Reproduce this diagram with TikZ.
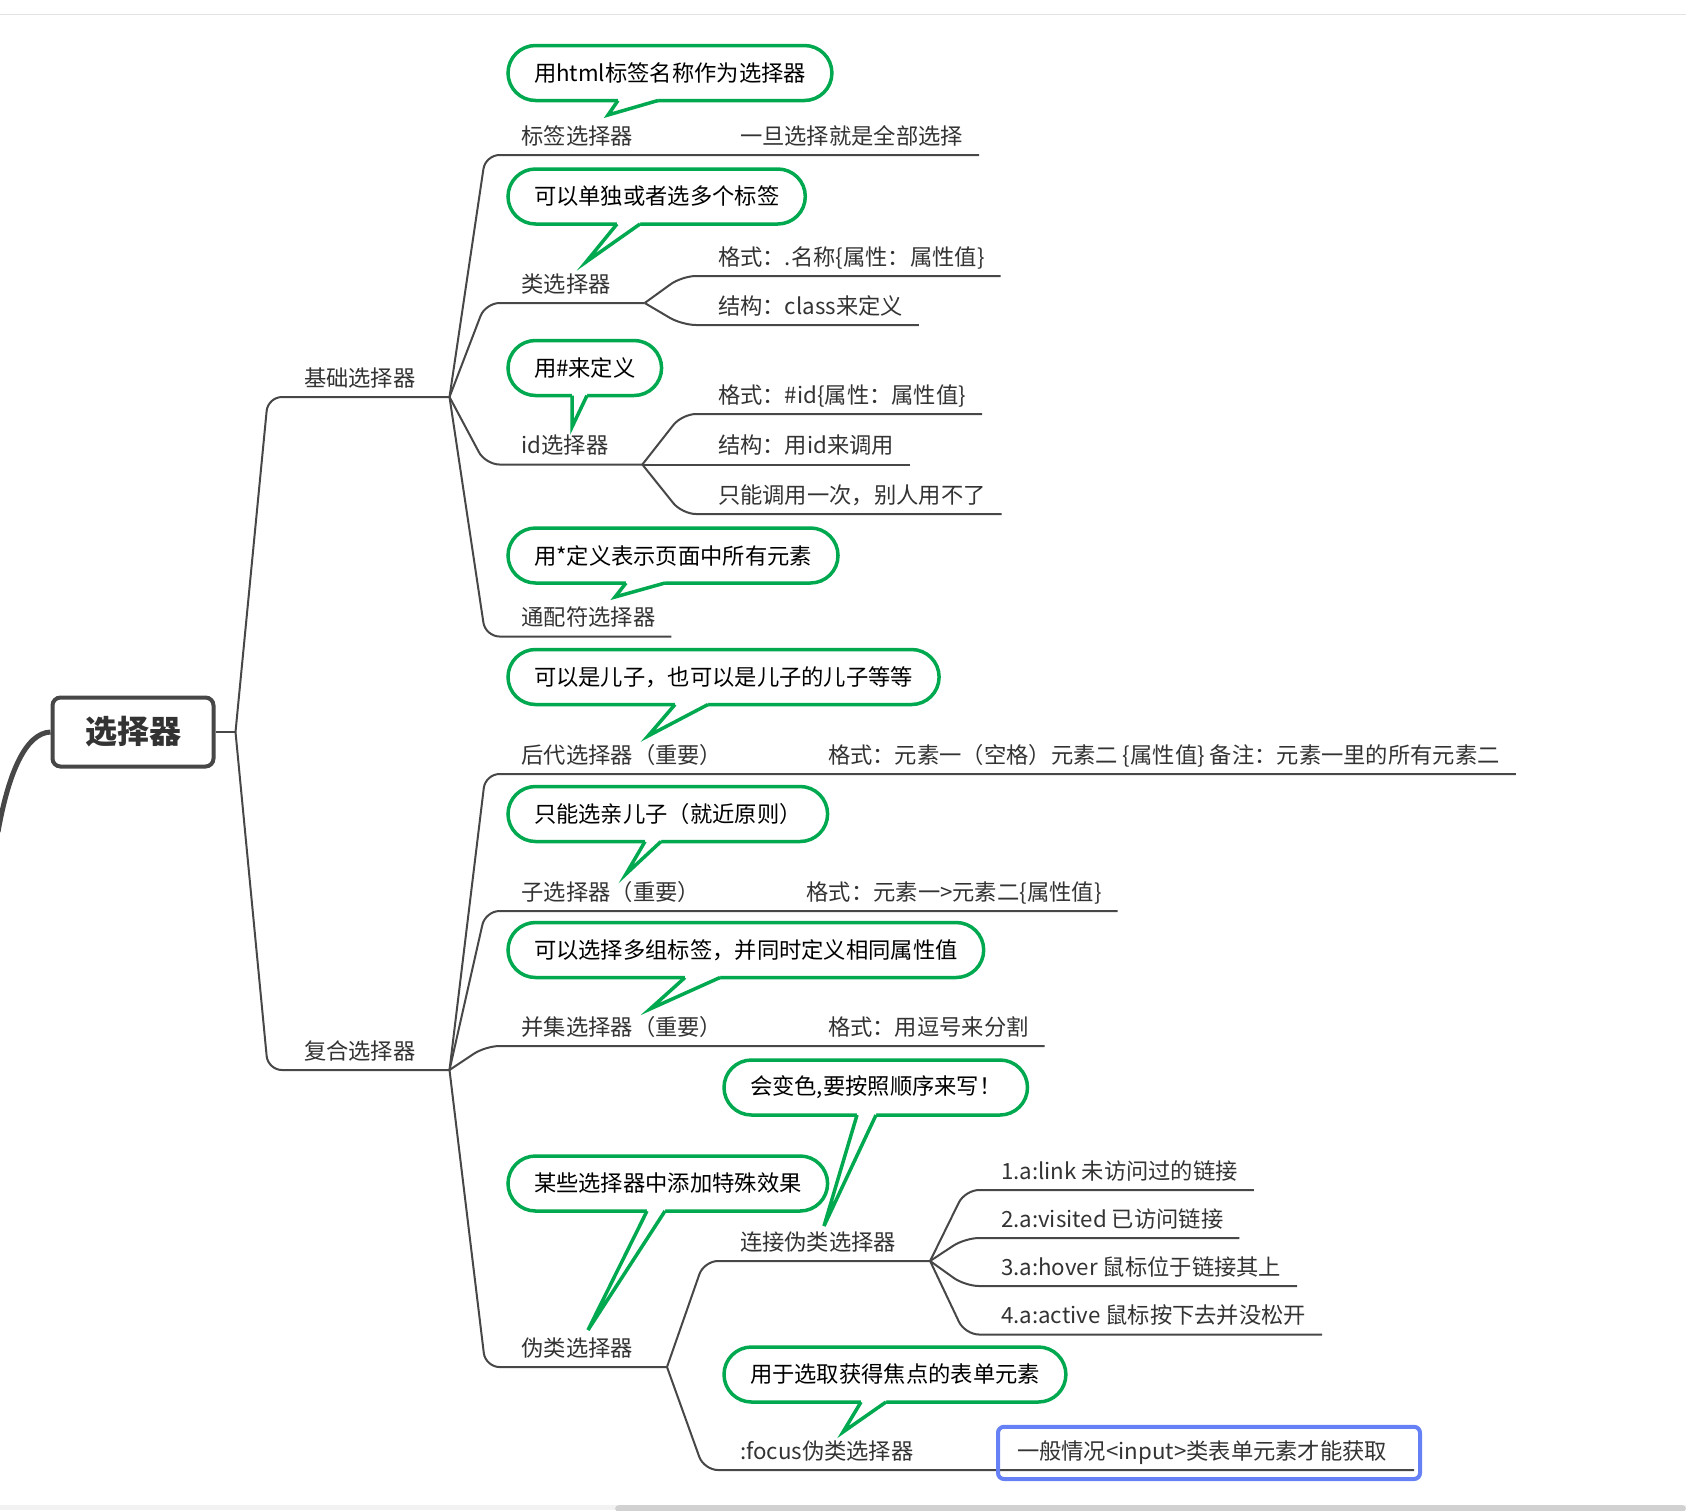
\documentclass[tikz,border=0pt]{standalone}
\usepackage{fontspec}
\setmainfont{Noto Sans CJK SC}
\usepackage{tikz}
\definecolor{linegray}{HTML}{474747}
\definecolor{textgray}{HTML}{333333}
\definecolor{bubgreen}{HTML}{00A94F}
\definecolor{noteblue}{HTML}{6680F5}
\newcommand{\bubtail}[4]{%
  \path (#1.south -| #2,0) coordinate (#1-bl) (#1.south -| #3,0) coordinate (#1-br);
  \fill[white] ([yshift=1.3pt]#1-bl) -- (#1-bl) -- (#4) -- (#1-br) -- ([yshift=1.3pt]#1-br) -- cycle;
  \draw[tail] (#1-bl) -- (#4) -- (#1-br);}

\begin{document}
\begin{tikzpicture}[x=0.5pt, y=-0.5pt,
    topic/.style={anchor=south west, inner xsep=8pt, inner ysep=3.7pt, outer sep=0pt,
      text height=9.5pt, text depth=1.7pt, text=textgray, font=\fontsize{11.15pt}{13pt}\selectfont},
    rootbox/.style={draw=linegray, line width=2pt, rounded corners=4pt, minimum width=80.5pt,
      minimum height=34.5pt, text=textgray, font=\fontsize{16pt}{18pt}\selectfont\bfseries},
    branch/.style={draw=linegray, line width=1pt, rounded corners=7pt},
    bubble/.style={anchor=west, draw=bubgreen, line width=1.75pt, fill=white, rounded corners=13.75pt,
      minimum height=27.5pt, inner xsep=13pt, outer sep=0pt, text=black,
      font=\fontsize{11.15pt}{13pt}\selectfont},
    tail/.style={draw=bubgreen, line width=1.75pt, line join=miter},
    notebox/.style={draw=noteblue, line width=2pt, rounded corners=3pt}]
  \useasboundingbox (0,0) rectangle (1686,1510);
  \draw[black!11, line width=0.8pt] (0,14.3) -- (1686,14.3);
  \fill[black!5] (0,1505) rectangle (1686,1510);
  \fill[black!18, rounded corners=2pt] (615,1505) rectangle (1686,1512);

  \node (root) [rootbox] at (133,732) {选择器};
  \coordinate (offpage) at (-2,832);
  \draw[linegray, line width=2.5pt] (root.west) .. controls (25,733) and (8,775) .. (offpage);
  \coordinate (root-j) at ([xshift=10pt]root.east);
  \draw[branch] (root.east) -- (root-j);

  \node (basic) [topic] at (288,397) {基础选择器};
  \node (compound) [topic] at (288,1070) {复合选择器};
  \coordinate (basic-j) at ([xshift=9pt]basic.south east);
  \coordinate (compound-j) at ([xshift=9pt]compound.south east);
  \draw[branch] (root-j) -- ([xshift=-10pt]basic.south west) -- (basic-j);
  \draw[branch] (root-j) -- ([xshift=-10pt]compound.south west) -- (compound-j);

  \node (tag) [topic] at (505.5,155) {标签选择器};
  \node (tagnote) [topic] at (724,155) {一旦选择就是全部选择};
  \node (cls) [topic] at (505.5,303) {类选择器};
  \node (clsfmt) [topic] at (702,276) {格式：.名称\{属性：属性值\}};
  \node (clsdef) [topic] at (702,325) {结构：class来定义};
  \node (idsel) [topic] at (505.5,464.5) {id选择器};
  \node (idfmt) [topic] at (702,414) {格式：\#id\{属性：属性值\}};
  \node (iddef) [topic] at (702,464.5) {结构：用id来调用};
  \node (idonce) [topic] at (702,514) {只能调用一次，别人用不了};
  \node (star) [topic] at (505.5,636.5) {通配符选择器};
  \coordinate (cls-j) at ([xshift=9pt]cls.south east);
  \coordinate (idsel-j) at ([xshift=9pt]idsel.south east);
  \draw[branch] (basic-j) -- ([xshift=-10pt]tag.south west) -- (tag.south east) -- (tagnote.south west) -- (tagnote.south east);
  \draw[branch] (basic-j) -- ([xshift=-10pt]cls.south west) -- (cls-j);
  \draw[branch] (basic-j) -- ([xshift=-10pt]idsel.south west) -- (idsel-j);
  \draw[branch] (basic-j) -- ([xshift=-10pt]star.south west) -- (star.south east);
  \draw[branch] (cls-j) -- ([xshift=-10pt]clsfmt.south west) -- (clsfmt.south east);
  \draw[branch] (cls-j) -- ([xshift=-10pt]clsdef.south west) -- (clsdef.south east);
  \draw[branch] (idsel-j) -- ([xshift=-10pt]idfmt.south west) -- (idfmt.south east);
  \draw[branch] (idsel-j) -- (iddef.south east);
  \draw[branch] (idsel-j) -- ([xshift=-10pt]idonce.south west) -- (idonce.south east);

  \node (desc) [topic] at (505.5,774) {后代选择器（重要）};
  \node (descnote) [topic] at (812,774) {格式：元素一（空格）元素二 \{属性值\} 备注：元素一里的所有元素二};
  \node (child) [topic] at (505.5,911) {子选择器（重要）};
  \node (childnote) [topic] at (790.5,911) {格式：元素一>元素二\{属性值\}};
  \node (group) [topic] at (505.5,1046) {并集选择器（重要）};
  \node (groupnote) [topic] at (812,1046) {格式：用逗号来分割};
  \node (pseudo) [topic] at (505.5,1367) {伪类选择器};
  \coordinate (pseudo-j) at ([xshift=9pt]pseudo.south east);
  \draw[branch] (compound-j) -- ([xshift=-10pt]desc.south west) -- (desc.south east) -- (descnote.south west) -- (descnote.south east);
  \draw[branch] (compound-j) -- ([xshift=-10pt]child.south west) -- (child.south east) -- (childnote.south west) -- (childnote.south east);
  \draw[branch] (compound-j) -- ([xshift=-10pt]group.south west) -- (group.south east) -- (groupnote.south west) -- (groupnote.south east);
  \draw[branch] (compound-j) -- ([xshift=-10pt]pseudo.south west) -- (pseudo-j);

  \node (link) [topic] at (724,1261) {连接伪类选择器};
  \node (focus) [topic] at (724,1470) {:focus伪类选择器};
  \node (focusnote) [topic, text width=190.5pt] at (1001,1470) {一般情况<input>类表单元素才能获取};
  \coordinate (link-j) at ([xshift=9pt]link.south east);
  \draw[branch] (pseudo-j) -- ([xshift=-10pt]link.south west) -- (link-j);
  \draw[branch] (pseudo-j) -- ([xshift=-10pt]focus.south west) -- (focus.south east) -- (focusnote.south west) -- (focusnote.south east);
  \draw[notebox] ([xshift=-1.5pt,yshift=-4.5pt]focusnote.south west) rectangle ([xshift=3pt,yshift=3pt]focusnote.north east);

  \node (link1) [topic] at (985,1190) {1.a:link 未访问过的链接};
  \node (link2) [topic] at (985,1238) {2.a:visited 已访问链接};
  \node (link3) [topic] at (985,1286) {3.a:hover 鼠标位于链接其上};
  \node (link4) [topic] at (985,1334.5) {4.a:active 鼠标按下去并没松开};
  \foreach \n in {link1,link2,link3,link4}
    \draw[branch] (link-j) -- ([xshift=-10pt]\n.south west) -- (\n.south east);

  \node (b1) [bubble] at (508,73) {用html标签名称作为选择器};
  \node (b2) [bubble] at (508,196.5) {可以单独或者选多个标签};
  \node (b3) [bubble] at (508,368) {用\#来定义};
  \node (b4) [bubble] at (508,555.5) {用*定义表示页面中所有元素};
  \node (b5) [bubble] at (508,677) {可以是儿子，也可以是儿子的儿子等等};
  \node (b6) [bubble] at (508,814) {只能选亲儿子（就近原则）};
  \node (b7) [bubble] at (508,950) {可以选择多组标签，并同时定义相同属性值};
  \node (b9) [bubble] at (508,1183.5) {某些选择器中添加特殊效果};
  \node (b8) [bubble] at (724,1087.5) {会变色,要按照顺序来写！};
  \node (b10) [bubble] at (724,1374.5) {用于选取获得焦点的表单元素};
  \bubtail{b1}{618}{658}{608,115}
  \bubtail{b2}{617}{640}{586,262}
  \bubtail{b3}{572}{587}{572,427}
  \bubtail{b4}{626}{665}{615,597}
  \bubtail{b5}{675}{708}{648,736}
  \bubtail{b6}{645}{661}{626,874}
  \bubtail{b7}{685}{720}{650,1009}
  \bubtail{b9}{647}{665}{588,1330}
  \bubtail{b8}{857}{876}{824,1226}
  \bubtail{b10}{861}{886}{843,1432}
\end{tikzpicture}
\end{document}
